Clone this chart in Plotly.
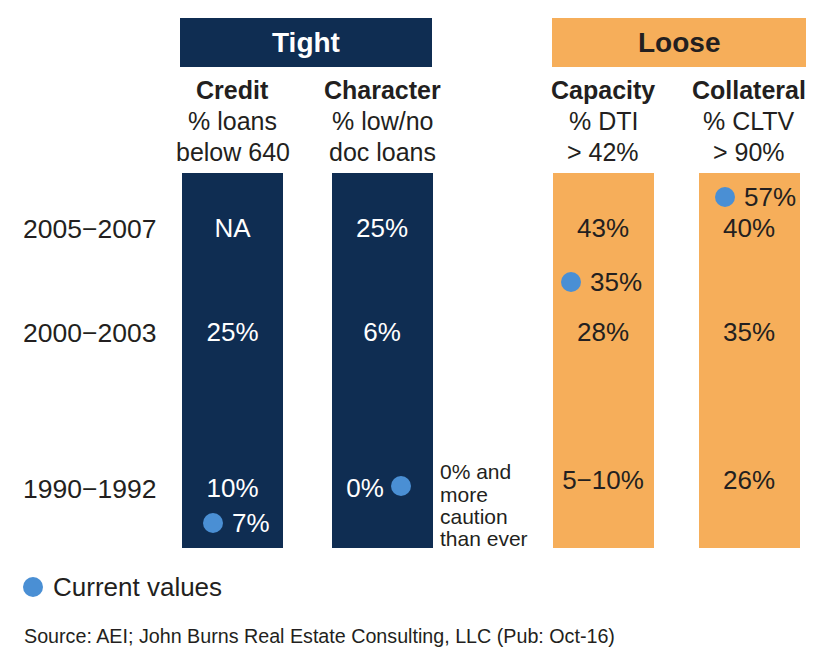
import plotly.graph_objects as go

# ---------------- data ----------------
groups = ["Tight", "Loose"]
columns = ["Credit", "Character", "Capacity", "Collateral"]
column_group = ["Tight", "Tight", "Loose", "Loose"]
subtitle_line1 = ["% loans", "% low/no", "% DTI", "% CLTV"]
subtitle_line2 = ["below 640", "doc loans", "> 42%", "> 90%"]
periods = ["2005−2007", "2000−2003", "1990−1992"]
credit_vals = ["NA", "25%", "10%"]
character_vals = ["25%", "6%", "0%"]
capacity_vals = ["43%", "28%", "5−10%"]
collateral_vals = ["40%", "35%", "26%"]
current_vals = ["7%", "", "35%", "57%"]
note_lines = ["0% and", "more", "caution", "than ever"]
legend_text = "Current values"
source_text = "Source: AEI; John Burns Real Estate Consulting, LLC (Pub: Oct-16)"

# ---------------- layout / style ----------------
NAVY = "#0f2d52"
ORANGE = "#f6ae5a"
DOT = "#4a8fd4"
TXT = "#231f20"
FONT = "Liberation Sans, Arial, sans-serif"

OFF = 8  # browser body margin
W, H = 830, 669

col_x = [232.5, 382, 603, 749]
bar_top, bar_bottom, bar_w = 173, 548, 101
group_box = {"Tight": (180, 432), "Loose": (552, 806)}
row_y_tight = [230, 334, 490]
row_y_loose = [230, 334, 482]
last_row_x = [232.5, 365, 603, 749]
current_pos = [(213, 523), (401, 486), (571, 282), (725, 197)]
note_y = [471, 494, 516, 538]
TEXT_GAP = 17

fig = go.Figure()

# column bars
fig.add_trace(go.Bar(
    x=col_x, y=[bar_bottom - bar_top] * 4, base=[bar_top] * 4, width=bar_w,
    marker=dict(color=[NAVY if g == "Tight" else ORANGE for g in column_group], line=dict(width=0)),
    hoverinfo="skip", showlegend=False,
))

# values in bars
all_vals = [credit_vals, character_vals, capacity_vals, collateral_vals]
for i, vals in enumerate(all_vals):
    ys = row_y_tight if column_group[i] == "Tight" else row_y_loose
    xs = [col_x[i]] * (len(vals) - 1) + [last_row_x[i]]
    fig.add_trace(go.Scatter(
        x=xs, y=ys, mode="text", text=vals,
        textfont=dict(family=FONT, size=26, color="white" if column_group[i] == "Tight" else TXT),
        hoverinfo="skip", showlegend=False,
    ))

annotations = []

# current value markers
fig.add_trace(go.Scatter(
    x=[p[0] for p in current_pos] + [33], y=[p[1] for p in current_pos] + [587], mode="markers",
    marker=dict(size=20, color=DOT, line=dict(width=0)),
    hoverinfo="skip", showlegend=False, cliponaxis=False,
))
for i, cv in enumerate(current_vals):
    if not cv:
        continue
    px, py = current_pos[i]
    annotations.append(dict(x=px + TEXT_GAP, y=py, xref="x", yref="y", text=cv, xanchor="left",
                            showarrow=False,
                            font=dict(family=FONT, size=26,
                                      color="white" if column_group[i] == "Tight" else TXT)))

annotations.append(dict(x=51, y=587, xref="x", yref="y", text=legend_text, xanchor="left",
                        showarrow=False, font=dict(family=FONT, size=26, color=TXT)))

shapes = []
for g in groups:
    x0, x1 = group_box[g]
    shapes.append(dict(type="rect", xref="x", yref="y", x0=x0, x1=x1, y0=18, y1=67,
                       fillcolor=NAVY if g == "Tight" else ORANGE, line=dict(width=0), layer="below"))
    annotations.append(dict(x=(x0 + x1) / 2, y=42, xref="x", yref="y", text="<b>%s</b>" % g,
                            showarrow=False, font=dict(family=FONT, size=28,
                                                       color="white" if g == "Tight" else TXT)))

for i, c in enumerate(columns):
    annotations.append(dict(x=col_x[i], y=90, xref="x", yref="y", text="<b>%s</b>" % c,
                            showarrow=False, font=dict(family=FONT, size=25, color=TXT)))
    annotations.append(dict(x=col_x[i], y=121, xref="x", yref="y", text=subtitle_line1[i],
                            showarrow=False, font=dict(family=FONT, size=25, color=TXT)))
    annotations.append(dict(x=col_x[i], y=152, xref="x", yref="y", text=subtitle_line2[i],
                            showarrow=False, font=dict(family=FONT, size=25, color=TXT)))

for p, y in zip(periods, row_y_tight):
    annotations.append(dict(x=21, y=y - 1, xref="x", yref="y", text=p, xanchor="left",
                            showarrow=False, font=dict(family=FONT, size=26.5, color=TXT)))

for line, y in zip(note_lines, note_y):
    annotations.append(dict(x=438, y=y, xref="x", yref="y", text=line, xanchor="left",
                            showarrow=False, font=dict(family=FONT, size=21, color=TXT)))

annotations.append(dict(x=22, y=636, xref="x", yref="y", text=source_text, xanchor="left",
                        showarrow=False, font=dict(family=FONT, size=19.7, color=TXT)))

fig.update_layout(
    width=W - OFF, height=H - OFF, margin=dict(l=0, r=0, t=0, b=0),
    paper_bgcolor="white", plot_bgcolor="white",
    xaxis=dict(range=[OFF, W], visible=False, fixedrange=True),
    yaxis=dict(range=[H, OFF], visible=False, fixedrange=True),
    shapes=shapes, annotations=annotations, bargap=0,
)

fig.write_html("out.html")
